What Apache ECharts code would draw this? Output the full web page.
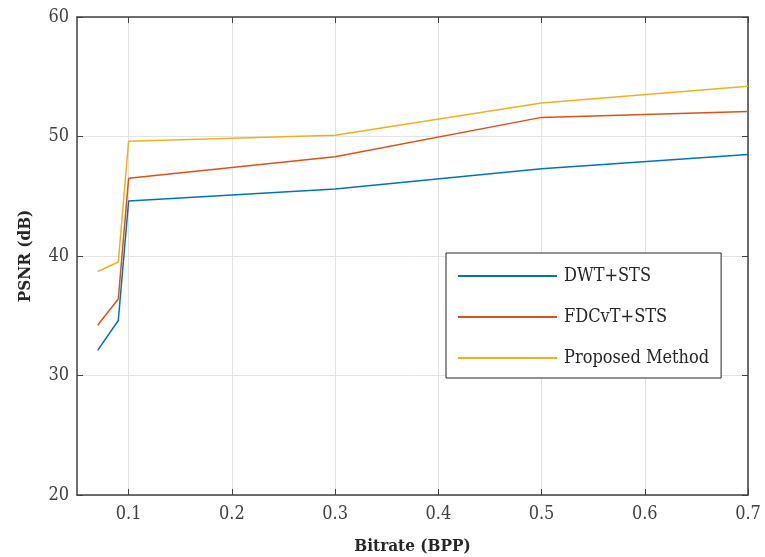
<!DOCTYPE html>
<html>
<head>
<meta charset="utf-8">
<script src="https://cdn.jsdelivr.net/npm/echarts@6/dist/echarts.min.js"></script>
<style>
  html, body { margin: 0; padding: 0; background: #ffffff; }
  #psnr { width: 765px; height: 557px; }
</style>
</head>
<body>
<div id="psnr"></div>
<script>
var bitrate = [0.07, 0.09, 0.1, 0.3, 0.5, 0.7]
var dwtSts = [32.1, 34.6, 44.6, 45.6, 47.3, 48.5]
var fdcvtSts = [34.2, 36.4, 46.5, 48.3, 51.6, 52.1]
var proposed = [38.7, 39.5, 49.6, 50.1, 52.8, 54.2]
var xTicks = [0.1, 0.2, 0.3, 0.4, 0.5, 0.6, 0.7]

var font = 'DejaVu Serif Condensed, DejaVu Serif, serif'
var axisColor = '#404040'

function pairs(ys) {
  var out = []
  for (var i = 0; i < bitrate.length; i++) {
    out.push([bitrate[i], ys[i]])
  }
  return out
}

function xAxisOpt(pos, showLabel) {
  return {
    type: 'value',
    position: pos,
    min: 0.05,
    max: 0.7,
    name: showLabel ? 'Bitrate (BPP)' : '',
    nameLocation: 'middle',
    nameGap: 43,
    nameTextStyle: { fontFamily: font, fontWeight: 'bold', fontSize: 17, color: '#262626' },
    axisLine: { show: true, onZero: false, lineStyle: { color: axisColor, width: 1.5 } },
    axisTick: { show: true, inside: true, length: 6, customValues: xTicks, lineStyle: { color: axisColor } },
    axisLabel: {
      show: showLabel,
      customValues: xTicks,
      fontFamily: font,
      fontSize: 18,
      color: '#404040',
      margin: 10,
      formatter: function(v) { return v.toFixed(1) }
    },
    splitLine: { show: showLabel, lineStyle: { color: '#e3e3e3', width: 1 } }
  }
}

function yAxisOpt(pos, showLabel) {
  return {
    type: 'value',
    position: pos,
    min: 20,
    max: 60,
    interval: 10,
    name: showLabel ? 'PSNR (dB)' : '',
    nameLocation: 'middle',
    nameGap: 43,
    nameTextStyle: { fontFamily: font, fontWeight: 'bold', fontSize: 17, color: '#262626' },
    axisLine: { show: true, onZero: false, lineStyle: { color: axisColor, width: 1.5 } },
    axisTick: { show: true, inside: true, length: 6, lineStyle: { color: axisColor } },
    axisLabel: { show: showLabel, fontFamily: font, fontSize: 18, color: '#404040', margin: 8 },
    splitLine: { show: showLabel, lineStyle: { color: '#e3e3e3', width: 1 } }
  }
}

var chart = echarts.init(document.getElementById('psnr'))
var option = {
  backgroundColor: '#ffffff',
  animation: false,
  grid: { left: 77, right: 17, top: 17, bottom: 62, containLabel: false, outerBoundsMode: 'none' },
  xAxis: [xAxisOpt('bottom', true), xAxisOpt('top', false)],
  yAxis: [yAxisOpt('left', true), yAxisOpt('right', false)],
  legend: {
    orient: 'vertical',
    left: 446,
    top: 253,
    width: 277,
    backgroundColor: '#ffffff',
    borderColor: '#262626',
    borderWidth: 1,
    padding: [14, 12, 11, 12],
    itemGap: 23,
    itemWidth: 99,
    itemHeight: 2,
    icon: 'rect',
    textStyle: { fontFamily: font, fontSize: 18, color: '#262626', padding: [0, 0, 0, 2] },
    data: ['DWT+STS', 'FDCvT+STS', 'Proposed Method']
  },
  series: [
    {
      name: 'DWT+STS',
      type: 'line',
      data: pairs(dwtSts),
      showSymbol: false,
      lineStyle: { color: '#0072BD', width: 1.5 },
      itemStyle: { color: '#0072BD' }
    },
    {
      name: 'FDCvT+STS',
      type: 'line',
      data: pairs(fdcvtSts),
      showSymbol: false,
      lineStyle: { color: '#D95319', width: 1.5 },
      itemStyle: { color: '#D95319' }
    },
    {
      name: 'Proposed Method',
      type: 'line',
      data: pairs(proposed),
      showSymbol: false,
      lineStyle: { color: '#EDB120', width: 1.5 },
      itemStyle: { color: '#EDB120' }
    }
  ]
}
chart.setOption(option, true)
</script>
</body>
</html>
